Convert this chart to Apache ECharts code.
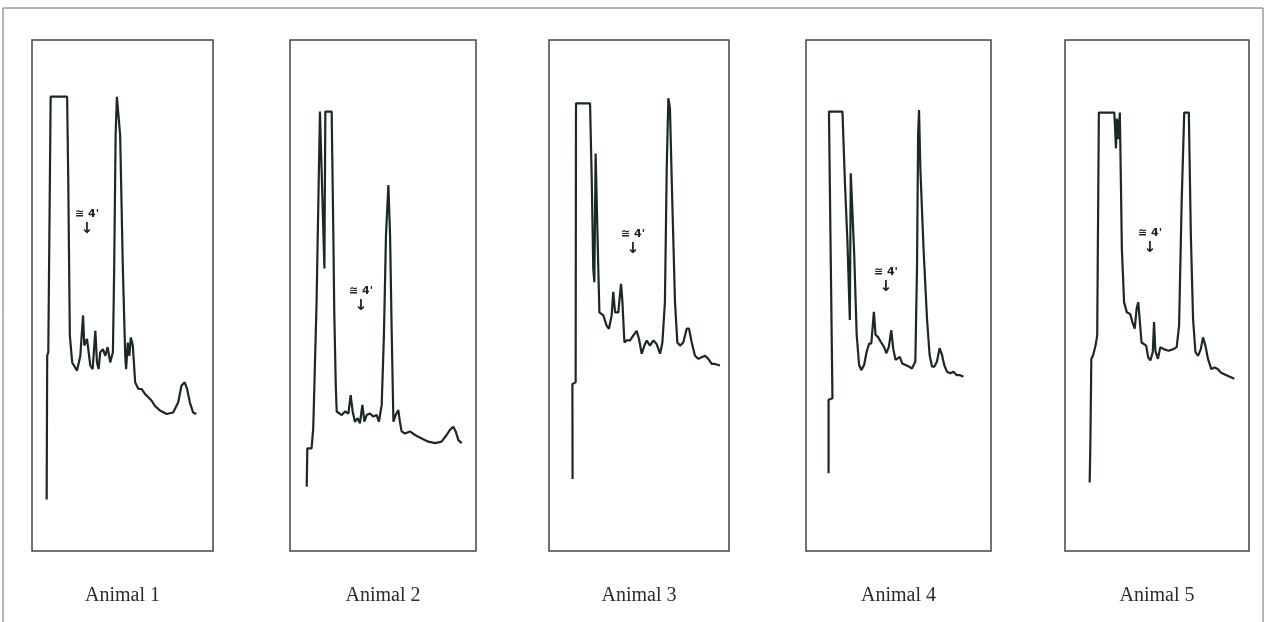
<!DOCTYPE html>
<html>
<head>
<meta charset="utf-8">
<title>Animal 1 - 5</title>
<script src="https://cdn.jsdelivr.net/npm/echarts@6/dist/echarts.min.js"></script>
<style>
    html, body { margin: 0; padding: 0; background: #fff; }
    #main { width: 1277px; height: 622px; }
</style>
</head>
<body>
<div id="main"></div>
<script>
// captions under each panel
var animals = ['Animal 1', 'Animal 2', 'Animal 3', 'Animal 4', 'Animal 5'];

// traces: [time, signal], both in % of the panel
var trace1 = [[8.1,10.1],[8.4,38.2],[9.0,38.9],[10.3,88.9],[19.4,88.9],[20.0,73.5],[20.9,42.2],[22.2,36.9],
    [24.9,35.3],[26.7,38.2],[28.2,46.1],[28.9,40.2],[30.4,41.5],[32.2,36.3],[33.5,35.6],[35.0,43.1],[35.9,36.9],
    [36.8,35.6],[37.7,38.9],[39.2,39.5],[40.5,38.2],[41.8,39.9],[43.2,36.9],[44.7,38.9],[45.4,55.2],[46.2,81.4],
    [46.9,88.9],[47.8,88.9],[48.7,81.4],[50.2,55.2],[51.5,38.2],[52.0,35.6],[52.9,40.8],[53.8,38.2],[54.6,41.8],
    [55.7,40.2],[57.0,33.0],[58.8,31.7],[60.6,31.7],[62.5,30.7],[64.3,30.1],[66.1,29.4],[67.9,28.4],[70.7,27.5],
    [74.4,26.8],[78.0,27.1],[80.8,29.1],[82.6,32.4],[84.4,33.0],[85.7,31.7],[87.2,29.1],[89.0,27.1],[90.8,26.8]];

var trace2 = [[9.0,12.6],[9.3,20.1],[11.6,20.1],[12.5,24.0],[14.3,48.8],[16.1,86.0],[17.0,86.0],[18.5,55.3],
    [19.0,86.0],[22.4,86.0],[23.3,61.8],[23.8,46.8],[24.6,32.5],[25.1,27.3],[27.8,26.6],[29.6,27.3],[31.4,26.9],
    [32.6,30.5],[33.7,27.3],[34.9,25.3],[36.4,26.0],[37.6,25.0],[38.9,28.6],[40.0,25.3],[41.2,26.6],[43.0,26.9],
    [44.8,26.3],[46.6,26.6],[47.8,25.3],[49.3,28.6],[50.5,42.3],[51.6,61.8],[52.9,71.6],[53.8,61.8],[54.7,42.3],
    [55.6,25.3],[56.8,26.6],[58.2,27.6],[59.1,25.3],[60.0,23.4],[61.8,23.0],[64.5,23.4],[67.2,22.7],[70.8,22.0],
    [74.4,21.4],[78.0,21.1],[81.5,21.4],[84.2,22.7],[86.0,23.7],[87.8,24.3],[89.1,23.4],[90.5,21.7],[92.3,21.1]];

var trace3 = [[13.1,14.1],[13.0,32.7],[14.8,33.0],[15.0,87.6],[22.8,87.6],[23.7,73.5],[24.6,55.2],[25.2,52.6],
    [25.9,77.8],[26.7,77.5],[27.4,55.2],[28.0,46.7],[30.2,46.1],[32.0,44.1],[33.3,43.5],[34.8,46.1],[35.7,50.7],
    [36.7,46.7],[38.5,46.7],[40.0,52.3],[40.7,49.3],[41.9,40.8],[43.1,41.2],[45.0,41.2],[46.9,42.2],[48.7,43.1],
    [50.0,41.5],[51.5,38.6],[53.0,40.2],[54.3,41.2],[56.1,40.2],[58.0,41.2],[59.8,40.5],[61.7,38.6],[63.0,40.8],
    [64.4,48.7],[65.4,74.8],[66.3,88.6],[67.2,86.6],[68.5,68.3],[70.0,48.7],[71.3,40.8],[72.8,40.2],[74.6,40.8],
    [76.5,43.5],[77.8,43.5],[79.3,40.8],[81.1,38.2],[83.0,37.6],[84.8,37.9],[86.7,38.2],[88.5,37.6],[90.4,36.6],
    [92.2,36.6],[95.0,36.3]];

var trace4 = [[12.2,15.2],[12.2,29.6],[14.3,29.9],[12.4,86.0],[19.7,86.0],[21.1,71.6],[22.4,60.5],[23.7,45.2],
    [24.2,73.9],[25.1,73.6],[26.0,58.6],[27.4,42.3],[28.7,36.4],[29.9,35.4],[31.4,36.4],[32.8,39.0],[34.1,40.6],
    [35.3,40.6],[36.7,46.8],[37.6,42.3],[38.9,41.9],[40.3,41.0],[42.1,40.0],[43.5,38.7],[44.8,40.0],[46.1,43.2],
    [47.1,39.7],[48.4,37.4],[49.6,37.7],[50.7,38.0],[52.0,36.7],[53.8,36.4],[55.6,36.1],[57.3,35.7],[59.1,37.1],
    [60.0,55.3],[60.6,81.4],[61.1,86.3],[61.8,74.9],[63.6,58.6],[65.4,45.5],[66.8,38.4],[68.1,36.1],[69.4,36.1],
    [70.8,37.1],[72.2,39.7],[73.5,38.4],[74.7,36.4],[76.2,35.1],[78.0,34.8],[79.7,35.1],[81.5,34.4],[83.3,34.4],
    [85.1,34.1]];

var trace5 = [[13.4,13.4],[13.8,21.2],[14.3,37.6],[15.2,38.2],[16.6,40.2],[17.5,42.2],[18.4,85.8],[26.8,85.8],
    [27.7,78.8],[28.2,84.6],[28.9,80.6],[29.8,85.8],[30.4,71.6],[30.9,59.2],[32.1,48.7],[33.6,46.7],[35.4,46.4],
    [36.6,44.8],[37.9,43.5],[38.9,47.4],[39.8,48.7],[40.7,44.8],[41.6,40.8],[42.9,40.5],[44.1,40.2],[45.2,37.9],
    [46.4,37.3],[47.7,38.9],[48.4,44.8],[49.1,39.2],[50.5,37.6],[51.8,39.9],[53.6,39.5],[56.3,39.2],[58.9,39.5],
    [60.7,39.9],[62.0,44.1],[63.4,68.3],[64.8,85.8],[67.3,85.8],[68.4,61.8],[69.6,45.4],[70.9,38.9],[72.3,38.2],
    [73.8,39.5],[75.0,41.8],[76.3,40.2],[77.7,37.6],[79.5,35.6],[81.3,35.9],[83.0,35.6],[84.8,34.9],[86.6,34.6],
    [88.4,34.3],[90.2,34.0],[92.0,33.7]];

var traces = [trace1, trace2, trace3, trace4, trace5];

// where the "≅ 4'" note sits in each panel
var notes = [[30.4, 64.4], [38.2, 49.3], [46.7, 60.5], [43.2, 53.0], [46.2, 60.7]];

// panel boxes on the page: left, width (px)
var panels = [[32, 181], [290, 186], [549, 180], [806, 185], [1065, 184]];

var chartDom = document.getElementById('main');
var myChart = echarts.init(chartDom, null, { renderer: 'canvas' });

var grids = [], xAxes = [], yAxes = [], series = [];

for (var i = 0; i < traces.length; i++) {
    grids.push({
        left: panels[i][0],
        top: 40,
        width: panels[i][1],
        height: 511,
        show: true,
        borderColor: '#444',
        borderWidth: 1.5
    });
    xAxes.push({
        gridIndex: i,
        type: 'value',
        min: 0,
        max: 100,
        name: animals[i],
        nameLocation: 'middle',
        nameGap: 35,
        nameTextStyle: { fontFamily: 'Liberation Serif', fontSize: 20, color: '#2b2b2b' },
        axisLine: { show: false },
        axisTick: { show: false },
        axisLabel: { show: false },
        splitLine: { show: false }
    });
    yAxes.push({
        gridIndex: i,
        type: 'value',
        min: 0,
        max: 100,
        show: false
    });
    series.push({
        name: animals[i],
        type: 'line',
        xAxisIndex: i,
        yAxisIndex: i,
        data: traces[i],
        symbol: 'none',
        lineStyle: { color: '#1c2923', width: 2.2 },
        markPoint: {
            silent: true,
            symbol: 'circle',
            symbolSize: 1,
            itemStyle: { color: 'rgba(0,0,0,0)' },
            label: {
                show: true,
                position: 'inside',
                formatter: '{t|\u2245 4\'}\n{a|\u2193}',
                rich: {
                    t: { fontFamily: 'DejaVu Sans', fontSize: 11, fontWeight: 'bold', color: '#222', lineHeight: 14 },
                    a: { fontFamily: 'DejaVu Sans', fontSize: 15, fontWeight: 'bold', color: '#222', lineHeight: 16 }
                }
            },
            data: [{ coord: notes[i] }]
        }
    });
}

var option = {
    animation: false,
    backgroundColor: '#ffffff',
    grid: grids,
    xAxis: xAxes,
    yAxis: yAxes,
    series: series,
    graphic: [{
        type: 'rect',
        silent: true,
        shape: { x: 3, y: 8, width: 1260, height: 640 },
        style: { fill: 'none', stroke: '#6a6a6a', lineWidth: 1 }
    }]
};

myChart.setOption(option);
</script>
</body>
</html>
